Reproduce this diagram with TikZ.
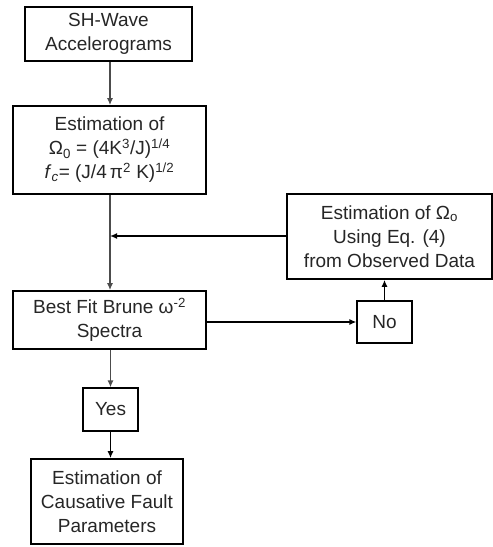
\documentclass[tikz,border=0pt]{standalone}
\usepackage{fontspec}
\setmainfont{Liberation Sans}
\usetikzlibrary{arrows.meta}
\begin{document}
\begin{tikzpicture}[x=1pt,y=-1pt,
  box/.style={draw=black,line width=1.6pt,align=center,inner sep=0pt,
    font=\fontsize{19}{24}\selectfont,text=black!85},
  arr/.style={line width=1.5pt,-{Latex[length=7pt,width=6pt]}},
  vline/.style={line width=1.5pt,draw=black!70}]
\useasboundingbox (0,0) rectangle (493,547);
\node[box,minimum width=167pt,minimum height=54pt] (b1) at (108.5,34) {SH-Wave\\Accelerograms};
\node[box,minimum width=193pt,minimum height=88pt] (b2) at (109.5,150)
  {Estimation of\\Ω\textsubscript{0} = (4K\textsuperscript{3}/J)\textsuperscript{1/4}\\\textit{f}\textsubscript{\textit{c}}= (J/4\,π\textsuperscript{2} K)\textsuperscript{1/2}};
\node[box,minimum width=205pt,minimum height=85pt] (b3) at (389.5,236.5)
  {Estimation of Ω\textsubscript{o}\\Using Eq. (4)\\from Observed Data};
\node[box,minimum width=193pt,minimum height=58pt] (b4) at (109.5,320)
  {Best Fit Brune ω\textsuperscript{-2}\\Spectra};
\node[box,line width=1.1pt,minimum width=55pt,minimum height=42pt] (no) at (384.5,322) {No};
\node[box,line width=1.1pt,minimum width=55pt,minimum height=43pt] (yes) at (110.5,409.5) {Yes};
\node[box,minimum width=152pt,minimum height=85pt] (b5) at (107,501.5)
  {Estimation of\\Causative Fault\\Parameters};
\coordinate (j) at (110,236);
\draw[arr,draw=black!70] (b1.south -| j) -- (b2.north -| j);
\draw[vline] (b2.south -| j) -- (j);
\draw[arr,draw=black!70] (j) -- (b4.north -| j);
\draw[arr] (b3.west |- j) -- (j);
\draw[arr] (b4.east |- no.west) -- (no.west);
\draw[arr] (no.north) -- (b3.south -| no.north);
\draw[arr,draw=black!70] (b4.south -| yes.north) -- (yes.north);
\draw[arr] (yes.south) -- (yes.south |- b5.north);
\end{tikzpicture}
\end{document}
